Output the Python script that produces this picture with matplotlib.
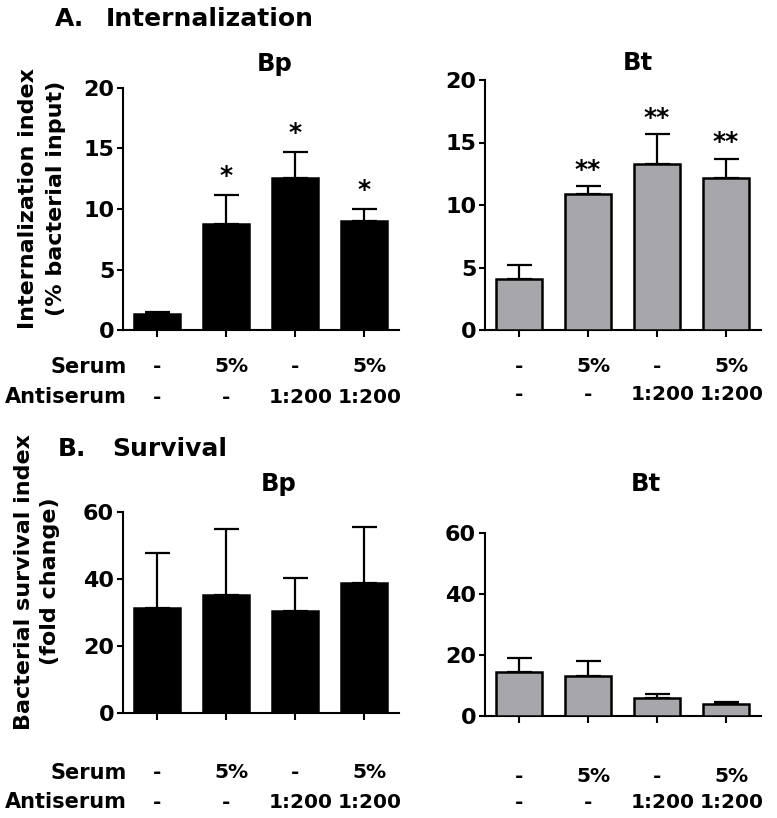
import matplotlib
matplotlib.use("Agg")
import matplotlib.pyplot as plt
import matplotlib.transforms as mtransforms

plt.rcParams['font.family'] = ['DejaVu Sans']
plt.rcParams['font.weight'] = 'bold'

# ---------------- data ----------------
conditions = [0, 1, 2, 3]
serum = ['-', '5%', '-', '5%']
antiserum = ['-', '-', '1:200', '1:200']

bp_int = [1.3, 8.8, 12.6, 9.0]
bp_int_err = [0.15, 2.35, 2.1, 1.0]
bp_int_sig = ['', '*', '*', '*']

bt_int = [4.05, 10.9, 13.25, 12.2]
bt_int_err = [1.15, 0.6, 2.4, 1.5]
bt_int_sig = ['', '**', '**', '**']

bp_surv = [31.4, 35.2, 30.4, 38.7]
bp_surv_err = [16.5, 19.6, 9.8, 16.7]

bt_surv = [14.3, 13.2, 5.8, 3.8]
bt_surv_err = [4.6, 4.9, 1.4, 0.9]

int_ticks = [0, 5, 10, 15, 20]
surv_ticks = [0, 20, 40, 60]

W, H = 777, 818
fig = plt.figure(figsize=(W / 100, H / 100), dpi=100)


def fx(px):
    return px / W


def fy(py):
    return 1 - py / H


def make_axes(left, right, top, bottom):
    return fig.add_axes([fx(left), fy(bottom), fx(right - left), (bottom - top) / H])


GREY = '#a7a7ab'


def draw_panel(ax, vals, errs, color, ylim, yticks, sig=None, star_off=12):
    ax.bar(conditions, vals, width=0.66, color=color, edgecolor='black',
           linewidth=1.8, zorder=3)
    ax.errorbar(conditions, vals, yerr=[[0] * len(errs), errs], fmt='none',
                ecolor='black', elinewidth=1.6, capsize=9, capthick=1.6, zorder=2)
    ax.set_xlim(-0.5, 3.5)
    ax.set_ylim(*ylim)
    ax.set_yticks(yticks)
    ax.set_xticks(conditions)
    ax.set_xticklabels([])
    for s in ['top', 'right']:
        ax.spines[s].set_visible(False)
    for s in ['left', 'bottom']:
        ax.spines[s].set_linewidth(1.5)
    ax.tick_params(axis='y', length=4, width=1.5, pad=2, labelsize=16)
    ax.tick_params(axis='x', length=5, width=1.5)
    for lab in ax.get_yticklabels():
        lab.set_fontweight('bold')
    if sig is not None:
        for i, (v, e, s) in enumerate(zip(vals, errs, sig)):
            if s:
                ax.annotate(s, xy=(i, v + e), xytext=(0, star_off),
                            textcoords='offset points', ha='center',
                            va='center', fontsize=18, fontweight='bold')


def row_labels(ax, y1, y2, with_names):
    tr = mtransforms.blended_transform_factory(ax.transData, fig.transFigure)
    for i in conditions:
        for lab, yy in ((serum[i], y1), (antiserum[i], y2)):
            off = 0.0 if lab == '-' else 0.08
            ax.text(i + off, fy(yy), lab, transform=tr, ha='center',
                    va='center', fontsize=14.5, fontweight='bold')
    if with_names:
        fig.text(fx(127), fy(y1), 'Serum', ha='right', va='center',
                 fontsize=15, fontweight='bold')
        fig.text(fx(127), fy(y2), 'Antiserum', ha='right', va='center',
                 fontsize=15, fontweight='bold')


# ---------------- A: Internalization ----------------
ax1 = make_axes(122.5, 398.5, 88, 330)
draw_panel(ax1, bp_int, bp_int_err, 'black', (0, 20), int_ticks, bp_int_sig, 14)
row_labels(ax1, 367, 397, True)

ax2 = make_axes(484.5, 760.5, 80, 330)
draw_panel(ax2, bt_int, bt_int_err, GREY, (0, 20), int_ticks, bt_int_sig, 12)
row_labels(ax2, 367, 395, False)

# ---------------- B: Survival ----------------
ax3 = make_axes(122.5, 398.5, 512, 713)
draw_panel(ax3, bp_surv, bp_surv_err, 'black', (0, 60), surv_ticks)
row_labels(ax3, 773, 802, True)

ax4 = make_axes(484.5, 760.5, 532.7, 716)
draw_panel(ax4, bt_surv, bt_surv_err, GREY, (0, 60), surv_ticks)
row_labels(ax4, 777, 803, False)

# ---------------- titles ----------------
fig.text(fx(55), fy(26), 'A.', ha='left', va='baseline', fontsize=18, fontweight='bold')
fig.text(fx(106), fy(26), 'Internalization', ha='left', va='baseline', fontsize=18, fontweight='bold')
fig.text(fx(58), fy(456), 'B.', ha='left', va='baseline', fontsize=18, fontweight='bold')
fig.text(fx(112), fy(456), 'Survival', ha='left', va='baseline', fontsize=18, fontweight='bold')

fig.text(fx(275), fy(70.5), 'Bp', ha='center', va='baseline', fontsize=17.5, fontweight='bold')
fig.text(fx(638), fy(70.5), 'Bt', ha='center', va='baseline', fontsize=17.5, fontweight='bold')
fig.text(fx(279), fy(491.5), 'Bp', ha='center', va='baseline', fontsize=17.5, fontweight='bold')
fig.text(fx(646), fy(491), 'Bt', ha='center', va='baseline', fontsize=17.5, fontweight='bold')

fig.text(fx(42), fy(198.5), 'Internalization index\n(% bacterial input)', rotation=90,
         ha='center', va='center', multialignment='center', linespacing=1.45,
         fontsize=16, fontweight='bold')
fig.text(fx(37), fy(581.5), 'Bacterial survival index\n(fold change)', rotation=90,
         ha='center', va='center', multialignment='center', linespacing=1.4,
         fontsize=16, fontweight='bold')

fig.savefig('out.png', dpi=100)
